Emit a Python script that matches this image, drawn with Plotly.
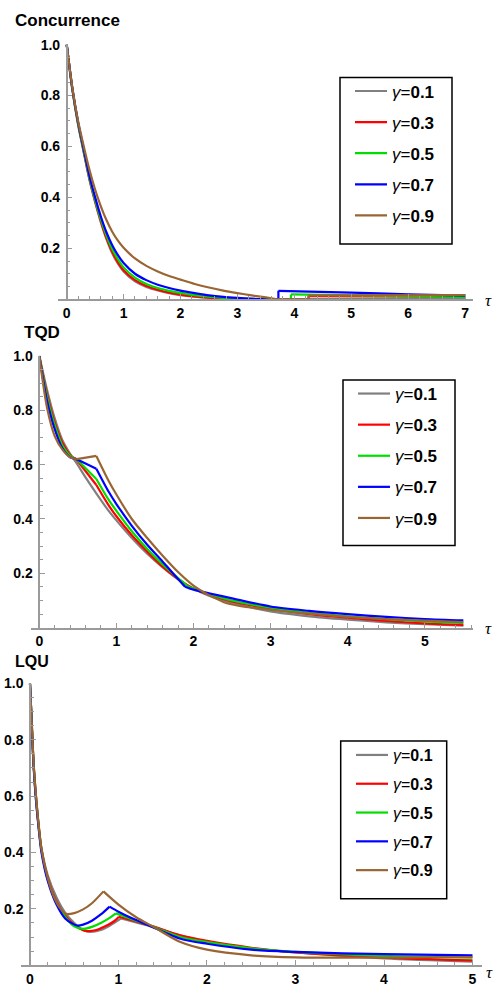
import plotly.graph_objects as go

W, H = 496, 988

GAMMA_LABELS = ["0.1", "0.3", "0.5", "0.7", "0.9"]
COLORS = ["#808080", "#ff0000", "#00dd00", "#0000ff", "#996633"]

# ---------------- Concurrence ----------------
CON_TAU = [0, 0.1, 0.2, 0.3, 0.4, 0.5, 0.6, 0.7, 0.8, 0.9, 1.0, 1.2, 1.4,
           1.6, 1.8, 2.0, 2.25, 2.5, 2.75, 3.0, 3.25, 3.5]
CON_G01 = [1, 0.82, 0.685, 0.575, 0.468, 0.38, 0.302, 0.235, 0.18, 0.14,
           0.109, 0.07, 0.048, 0.034, 0.024, 0.016, 0.01, 0.005, 0.002, 0.0,
           0.0, 0.0]
CON_G03 = [1, 0.825, 0.69, 0.58, 0.472, 0.385, 0.307, 0.24, 0.186, 0.145,
           0.114, 0.075, 0.052, 0.037, 0.026, 0.018, 0.011, 0.006, 0.003,
           0.001, 0.0, 0.0]
CON_G05 = [1, 0.825, 0.69, 0.582, 0.476, 0.39, 0.314, 0.25, 0.197, 0.157,
           0.125, 0.085, 0.06, 0.044, 0.033, 0.025, 0.016, 0.01, 0.005, 0.002,
           0.0005, 0.0]
CON_G07 = [1, 0.827, 0.695, 0.588, 0.484, 0.4, 0.325, 0.262, 0.212, 0.173,
           0.142, 0.1, 0.075, 0.057, 0.044, 0.034, 0.024, 0.015, 0.009, 0.005,
           0.002, 0.0005]
CON_G09 = [1, 0.83, 0.70, 0.60, 0.508, 0.43, 0.365, 0.31, 0.265, 0.23,
           0.202, 0.16, 0.131, 0.109, 0.091, 0.077, 0.06, 0.046, 0.034, 0.024,
           0.015, 0.007]
# late-time revival of entanglement
CON_TAIL_TAU = [
    [7.0],
    [4.25, 4.25, 7.0],
    [3.94, 3.94, 7.0],
    [3.72, 3.72, 5.0, 6.0, 7.0],
    [3.7, 4.25, 4.25, 7.0],
]
CON_TAIL_VAL = [
    [0.0],
    [0.0, 0.012, 0.009],
    [0.0, 0.019, 0.008],
    [0.0, 0.033, 0.026, 0.019, 0.014],
    [0.0, 0.0, 0.015, 0.016],
]
CON_CORNERS = [[], [], [], [], [3.7]]

# ---------------- TQD ----------------
TQD_TAU = [
    [0, 0.1, 0.2, 0.3, 0.4, 0.5, 0.6, 0.75, 0.9, 1.0, 1.2, 1.4, 1.6, 1.8,
     2.0, 2.2, 2.5, 3.0, 3.5, 4.0, 4.5, 5.0, 5.5],
    [0, 0.1, 0.2, 0.3, 0.4, 0.485, 0.74, 0.9, 1.0, 1.2, 1.4, 1.6, 1.8, 1.95,
     2.2, 2.5, 3.0, 3.5, 4.0, 4.5, 5.0, 5.5],
    [0, 0.1, 0.2, 0.3, 0.4, 0.485, 0.74, 0.9, 1.0, 1.2, 1.4, 1.6, 1.8, 1.93,
     2.2, 2.5, 3.0, 3.5, 4.0, 4.5, 5.0, 5.5],
    [0, 0.1, 0.2, 0.3, 0.4, 0.485, 0.74, 0.9, 1.0, 1.2, 1.4, 1.6, 1.75, 1.89,
     2.0, 2.2, 2.5, 3.0, 3.5, 4.0, 4.5, 5.0, 5.5],
    [0, 0.1, 0.2, 0.3, 0.4, 0.485, 0.74, 0.9, 1.0, 1.2, 1.4, 1.6, 1.8, 2.0,
     2.2, 2.41, 2.6, 3.0, 3.5, 4.0, 4.5, 5.0, 5.5],
]
TQD_VAL = [
    [1, 0.875, 0.77, 0.69, 0.64, 0.598, 0.553, 0.49, 0.43, 0.395, 0.33,
     0.272, 0.222, 0.178, 0.143, 0.118, 0.092, 0.06, 0.042, 0.03, 0.02,
     0.013, 0.008],
    [1, 0.86, 0.755, 0.68, 0.635, 0.618, 0.525, 0.45, 0.41, 0.34, 0.28,
     0.225, 0.18, 0.152, 0.122, 0.097, 0.07, 0.05, 0.037, 0.025, 0.016, 0.01],
    [1, 0.85, 0.745, 0.67, 0.632, 0.62, 0.547, 0.47, 0.43, 0.355, 0.29,
     0.233, 0.183, 0.152, 0.125, 0.1, 0.074, 0.055, 0.042, 0.032, 0.023,
     0.017],
    [1, 0.835, 0.73, 0.66, 0.627, 0.62, 0.585, 0.5, 0.455, 0.375, 0.305,
     0.243, 0.195, 0.151, 0.14, 0.127, 0.108, 0.078, 0.062, 0.05, 0.04,
     0.032, 0.027],
    [1, 0.81, 0.705, 0.655, 0.627, 0.62, 0.632, 0.54, 0.49, 0.40, 0.33,
     0.265, 0.205, 0.155, 0.12, 0.092, 0.08, 0.066, 0.052, 0.04, 0.032,
     0.026, 0.021],
]
TQD_CORNERS = [[], [0.485, 0.74], [0.485, 0.74, 1.93], [0.485, 0.74, 1.89],
               [0.485, 0.74, 2.41]]

# ---------------- LQU ----------------
LQU_TAU = [
    [0, 0.02, 0.04, 0.065, 0.1, 0.13, 0.2, 0.3, 0.4, 0.5, 0.6, 0.68, 0.8,
     0.9, 1.03, 1.2, 1.4, 1.7, 2.0, 2.5, 3.0, 4.0, 5.0],
    [0, 0.02, 0.04, 0.065, 0.1, 0.13, 0.2, 0.3, 0.4, 0.5, 0.6, 0.66, 0.75,
     0.85, 0.95, 1.005, 1.2, 1.4, 1.7, 2.0, 2.5, 3.0, 4.0, 5.0],
    [0, 0.02, 0.04, 0.065, 0.1, 0.13, 0.2, 0.3, 0.4, 0.5, 0.6, 0.7, 0.8,
     0.9, 0.97, 1.2, 1.4, 1.7, 2.0, 2.5, 3.0, 4.0, 5.0],
    [0, 0.02, 0.04, 0.065, 0.1, 0.13, 0.2, 0.3, 0.4, 0.53, 0.6, 0.7, 0.8,
     0.9, 1.0, 1.2, 1.4, 1.7, 2.0, 2.5, 3.0, 4.0, 5.0],
    [0, 0.02, 0.04, 0.065, 0.1, 0.13, 0.2, 0.28, 0.35, 0.41, 0.5, 0.6, 0.7,
     0.83, 1.0, 1.2, 1.4, 1.7, 2.0, 2.5, 3.0, 4.0, 5.0],
]
LQU_VAL = [
    [1, 0.86, 0.72, 0.61, 0.49, 0.415, 0.32, 0.24, 0.185, 0.15, 0.125,
     0.118, 0.125, 0.14, 0.166, 0.152, 0.135, 0.105, 0.084, 0.06, 0.045,
     0.024, 0.013],
    [1, 0.86, 0.72, 0.61, 0.49, 0.412, 0.31, 0.225, 0.175, 0.143, 0.124,
     0.121, 0.125, 0.138, 0.156, 0.172, 0.155, 0.137, 0.106, 0.086, 0.062,
     0.045, 0.027, 0.017],
    [1, 0.855, 0.715, 0.6, 0.485, 0.408, 0.305, 0.22, 0.17, 0.138, 0.129,
     0.136, 0.15, 0.168, 0.184, 0.158, 0.135, 0.1, 0.082, 0.06, 0.047,
     0.033, 0.027],
    [1, 0.85, 0.71, 0.595, 0.48, 0.4, 0.3, 0.215, 0.165, 0.141, 0.144,
     0.158, 0.18, 0.208, 0.19, 0.16, 0.133, 0.094, 0.076, 0.055, 0.047,
     0.039, 0.035],
    [1, 0.86, 0.72, 0.61, 0.49, 0.41, 0.31, 0.235, 0.198, 0.182, 0.185,
     0.198, 0.22, 0.262, 0.215, 0.17, 0.135, 0.082, 0.055, 0.035, 0.028,
     0.027, 0.029],
]
LQU_CORNERS = [[1.03], [1.005], [0.97], [0.9], [0.83]]

Y_TICKS = [0.2, 0.4, 0.6, 0.8, 1.0]
Y_TICK_TEXT = ["0.2", "0.4", "0.6", "0.8", "1.0"]

AXIS_COLOR = "#9a9a9a"
SANS = "Liberation Sans"


def split_segments(tau, val, corners):
    """Break a curve at its corners and jumps so each piece is smoothed alone."""
    cuts = []
    for i in range(1, len(tau) - 1):
        if tau[i] in corners or tau[i] == tau[i - 1] or tau[i] == tau[i + 1]:
            cuts.append(i)
    segs, start = [], 0
    for i in cuts:
        segs.append((tau[start:i + 1], val[start:i + 1]))
        start = i
    segs.append((tau[start:], val[start:]))
    return segs


def px_x(p):
    return p / W


def px_y(p):
    return 1 - p / H


fig = go.Figure()

con_tau = [CON_TAU + t for t in CON_TAIL_TAU]
con_val = [v + tv for v, tv in zip([CON_G01, CON_G03, CON_G05, CON_G07, CON_G09],
                                   CON_TAIL_VAL)]

panels = [
    dict(tau=con_tau, val=con_val, corners=CON_CORNERS, xa="x", ya="y",
         legend="legend", lfont=17, gap=6),
    dict(tau=TQD_TAU, val=TQD_VAL, corners=TQD_CORNERS, xa="x2", ya="y2",
         legend="legend2", lfont=17, gap=6),
    dict(tau=LQU_TAU, val=LQU_VAL, corners=LQU_CORNERS, xa="x3", ya="y3",
         legend="legend3", lfont=16, gap=5),
]

for k, p in enumerate(panels):
    for j in range(5):
        segs = split_segments(p["tau"][j], p["val"][j], p["corners"][j])
        for s, (xs, ys) in enumerate(segs):
            fig.add_trace(go.Scatter(
                x=xs, y=ys, mode="lines",
                line=dict(color=COLORS[j], width=2.2, shape="spline",
                          smoothing=0.8),
                name=f"<i>γ</i>=<b>{GAMMA_LABELS[j]}</b>",
                legendgroup=f"p{k}g{j}", showlegend=(s == 0),
                legend=p["legend"], xaxis=p["xa"], yaxis=p["ya"],
                hoverinfo="skip",
            ))

# plot-area geometry in pixels: (x_left, x_right, tau_left, tau_right,
# y_axis_px, y_top_px, y_bottom_px, x major ticks)
geom = [
    (58, 473, -0.153, 7.14, 66.7, 36.9, 293.6, list(range(0, 8))),
    (30.7, 473, -0.1115, 5.625, 39.3, 350.7, 624.8, list(range(0, 6))),
    (20.7, 481.7, -0.105, 5.104, 30.0, 681.0, 965.0, list(range(0, 6))),
]

for k, (xl, xr, t0, t1, yax, yt, yb, xt) in enumerate(geom):
    sfx = "" if k == 0 else str(k + 1)
    fig.update_layout(**{
        f"xaxis{sfx}": dict(
            domain=[px_x(xl), px_x(xr)], range=[t0, t1], anchor=f"y{sfx}",
            showline=True, linecolor=AXIS_COLOR, linewidth=1.5,
            showgrid=False, zeroline=False,
            ticks="inside", ticklen=5, tickwidth=1.2, tickcolor=AXIS_COLOR,
            tickvals=xt, ticktext=[str(v) for v in xt],
            tickfont=dict(family=SANS, size=14, color="black", weight="bold"),
            minor=dict(dtick=0.2, tick0=0, ticks="inside", ticklen=3,
                       tickwidth=1, tickcolor=AXIS_COLOR, showgrid=False),
            fixedrange=True,
        ),
        f"yaxis{sfx}": dict(
            domain=[px_y(yb), px_y(yt)], range=[0, 1.0], anchor="free",
            position=px_x(yax),
            showline=True, linecolor=AXIS_COLOR, linewidth=1.5,
            showgrid=False, zeroline=False,
            ticks="inside", ticklen=5, tickwidth=1.2, tickcolor=AXIS_COLOR,
            tickvals=Y_TICKS, ticktext=Y_TICK_TEXT, ticklabelstandoff=3,
            tickfont=dict(family=SANS, size=14, color="black", weight="bold"),
            minor=dict(dtick=0.05, tick0=0, ticks="inside", ticklen=3,
                       tickwidth=1, tickcolor=AXIS_COLOR, showgrid=False),
            fixedrange=True,
        ),
    })

# legend frames (px): left, top, right, bottom
frames = [(340, 70, 452, 238), (343, 375, 455, 542), (340.7, 739, 446.7, 898)]
# legend anchor (px): left, top
legend_pos = [(350, 66), (353, 371), (351, 736)]
for k, ((lx, ly), (fx0, fy0, fx1, fy1), p) in enumerate(zip(legend_pos, frames, panels)):
    name = "legend" if k == 0 else f"legend{k + 1}"
    fig.update_layout(**{name: dict(
        x=px_x(lx), y=px_y(ly), xanchor="left", yanchor="top",
        bgcolor="rgba(0,0,0,0)", borderwidth=0,
        font=dict(family=SANS, size=p["lfont"], color="black"),
        traceorder="grouped", tracegroupgap=p["gap"], itemwidth=32,
    )})
    fig.add_shape(type="rect", xref="paper", yref="paper",
                  x0=px_x(fx0), x1=px_x(fx1), y0=px_y(fy1), y1=px_y(fy0),
                  line=dict(color="black", width=1.5), fillcolor="rgba(0,0,0,0)",
                  layer="above")

titles = [("Concurrence", 13, 13, 17), ("TQD", 22, 327, 17), ("LQU", 13, 659, 16)]
for text, x, y, size in titles:
    fig.add_annotation(text=f"<b>{text}</b>", xref="paper", yref="paper",
                       x=px_x(x), y=px_y(y), xanchor="left", yanchor="middle",
                       showarrow=False,
                       font=dict(family=SANS, size=size, color="black"))

for x, y in [(488, 295), (488, 626), (489, 972)]:
    fig.add_annotation(text="<i>τ</i>", xref="paper", yref="paper",
                       x=px_x(x), y=px_y(y), xanchor="center", yanchor="middle",
                       showarrow=False,
                       font=dict(family="Liberation Serif", size=17,
                                 color="black"))

fig.update_layout(
    width=W, height=H, margin=dict(l=0, r=0, t=0, b=0),
    paper_bgcolor="white", plot_bgcolor="white",
)

fig.write_html("out.html")
